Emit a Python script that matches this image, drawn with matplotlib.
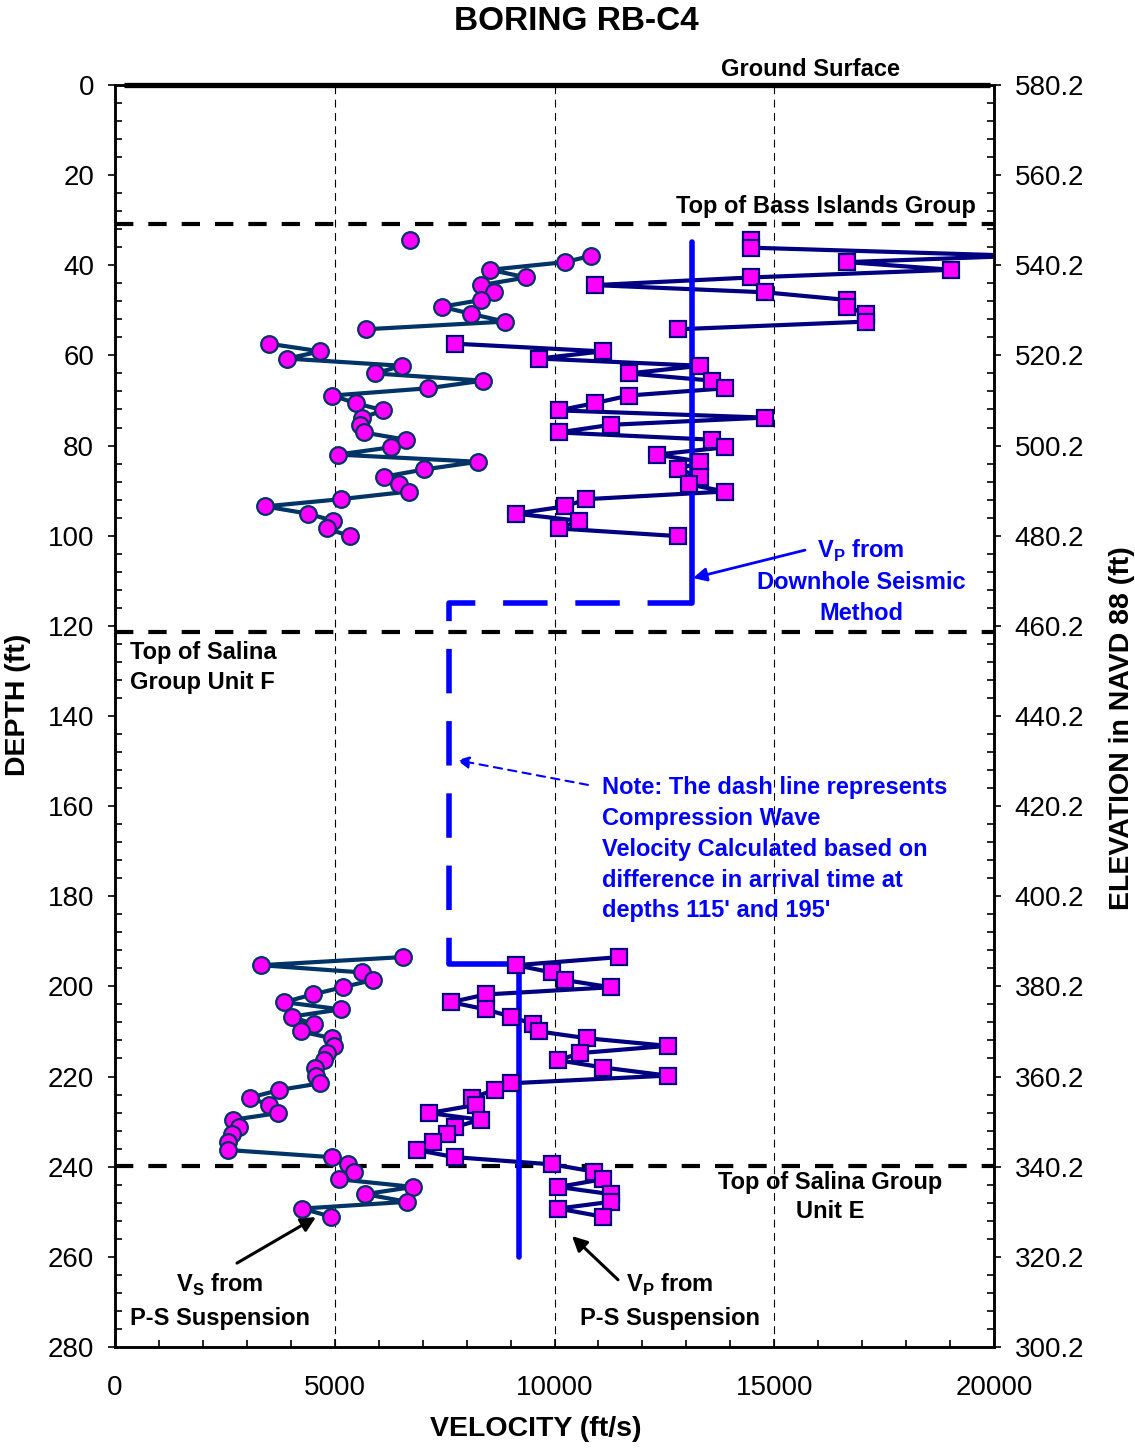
import numpy as np
import matplotlib
matplotlib.use("Agg")
import matplotlib.pyplot as plt
from matplotlib.ticker import MultipleLocator

plt.rcParams['font.family'] = ['Liberation Sans', 'DejaVu Sans']

# P-S suspension results, upper interval (ft, ft/s); nan = no reading
depth_upper = [34.4, 36.1, 37.9, 39.3, 41.0, 42.7, 44.4, 46.0, 47.7, 49.2, 50.8, 52.5,
               54.2, 55.8, 57.4, 59.1, 60.7, 62.3, 64.0, 65.6, 67.3, 68.9, 70.6, 72.2,
               73.8, 75.4, 77.1, 78.7, 80.4, 82.0, 83.6, 85.3, 86.9, 88.6, 90.2, 91.9,
               93.5, 95.1, 96.7, 98.4, 100.1]
vs_upper = [6712, np.nan, 10833, 10239, 8532, 9361, 8330, 8630, 8330, 7435, 8109, 8874,
            5704, np.nan, 3504, 4672, 3921, 6523, 5916, 8373, 7115, 4945, 5476, 6105,
            5627, 5575, 5658, 6614, 6272, 5067, 8259, 7038, 6128, 6462, 6689, 5133,
            3413, 4384, 4968, 4816, 5347]
vp_upper = [14480, 14480, 20600, 16657, 19030, 14480, 10913, 14789, 16657, 16657, 17081, 17081,
            12812, np.nan, 7736, 11092, 9645, 13320, 11693, 13586, 13879, 11693, 10913, 10093,
            14789, 11278, 10093, 13586, 13879, 12327, 13320, 12814, 13320, 13057, 13879, 10725,
            10239, 9115, 10563, 10093, 12814]

# lower interval
depth_lower = [193.5, 195.3, 196.9, 198.6, 200.2, 201.8, 203.5, 205.1, 206.7, 208.4,
               210.0, 211.5, 213.2, 214.8, 216.4, 218.0, 219.8, 221.5, 223.0, 224.7,
               226.3, 228.1, 229.6, 231.2, 232.8, 234.5, 236.3, 237.9, 239.5, 241.1,
               242.8, 244.5, 246.1, 247.8, 249.3, 251.1]
vs_lower = [6545, 3322, 5612, 5862, 5177, 4496, 3845, 5143, 4019, 4520,
            4232, 4930, 4991, 4824, 4763, 4558, 4566, 4672, 3732, 3072,
            3504, 3716, 2690, 2826, 2654, 2578, 2564, 4930, 5308, 5445,
            5104, 6788, 5688, 6652, 4262, 4915]
vp_lower = [11475, 9124, 9935, 10239, 11278, 8434, 7645, 8434, 9003, 9518,
            9647, 10732, 12575, 10580, 10087, 11111, 12575, 9003, 8646, 8116,
            8214, 7151, 8320, 7736, 7561, 7228, 6865, 7736, 9950, 10899,
            11096, 10087, 11278, 11278, 10087, 11096]

# downhole seismic Vp
dh_depth_top = [34.8, 115]
dh_vp_top = [13130, 13130]
dh_depth_mid = [115, 115, 195]
dh_vp_mid = [13130, 7600, 7600]
dh_depth_bot = [195, 195, 260]
dh_vp_bot = [7600, 9200, 9200]

# stratigraphic tops
tops = [30.8, 121.4, 239.8]
ground_elev = 580.2

VS_COLOR = '#003366'
VP_COLOR = '#000080'
MAG = '#FF00FF'
BLUE = '#0000FF'

fig = plt.figure(figsize=(11.35, 14.48), dpi=100)
ax = fig.add_axes([0.1013, 0.0698, 0.7745, 0.8715])
ax.set_xlim(0, 20000)
ax.set_ylim(280, 0)

# formation tops and ground surface
for d in tops:
    ax.plot([0, 20000], [d, d], color='black', lw=3, ls=(0, (4.4, 3.6)),
            zorder=1.5, solid_capstyle='butt')
ax.plot([200, 19900], [0, 0], color='black', lw=3.8, clip_on=False, zorder=5,
        solid_capstyle='butt')

# P-S suspension lines
for dep, vs, vp in [(depth_upper, vs_upper, vp_upper), (depth_lower, vs_lower, vp_lower)]:
    ax.plot(vs, dep, color=VS_COLOR, lw=3, zorder=2)
    ax.plot(vp, dep, color=VP_COLOR, lw=3, zorder=2)

# downhole Vp
ax.plot(dh_vp_top, dh_depth_top, color=BLUE, lw=4, zorder=3, solid_capstyle='round',
        solid_joinstyle='miter')
ax.plot(dh_vp_mid, dh_depth_mid, color=BLUE, lw=4, zorder=3, ls=(0, (8, 5)),
        dash_capstyle='butt')
ax.plot(dh_vp_bot, dh_depth_bot, color=BLUE, lw=4, zorder=3, solid_capstyle='round',
        solid_joinstyle='miter')

# markers on top
for dep, vs, vp in [(depth_upper, vs_upper, vp_upper), (depth_lower, vs_lower, vp_lower)]:
    ax.plot(vs, dep, ls='none', marker='o', ms=12, mfc=MAG, mec=VS_COLOR, mew=1.6, zorder=4)
    ax.plot(vp, dep, ls='none', marker='s', ms=11, mfc=MAG, mec=VP_COLOR, mew=1.6, zorder=4)

# axes styling
ax.xaxis.set_major_locator(MultipleLocator(5000))
ax.xaxis.set_minor_locator(MultipleLocator(1000))
ax.yaxis.set_major_locator(MultipleLocator(20))
ax.yaxis.set_minor_locator(MultipleLocator(4))
ax.grid(axis='x', which='major', color='black', lw=0.8, ls=(0, (7, 5)), zorder=0)
ax.tick_params(axis='x', which='major', direction='in', length=6, width=1.2,
               labelsize=20, pad=20)
ax.tick_params(axis='x', which='minor', direction='in', length=5, width=1.2)
ax.tick_params(axis='y', which='major', direction='out', length=5, width=1.2,
               labelsize=20, pad=10)
ax.tick_params(axis='y', which='minor', direction='in', length=5, width=1.2)
for s in ax.spines.values():
    s.set_linewidth(1.8)

ax2 = ax.twinx()
ax2.set_ylim(280, 0)
ax2.yaxis.set_major_locator(MultipleLocator(20))
ax2.yaxis.set_minor_locator(MultipleLocator(4))
yt = np.arange(0, 281, 20)
ax2.set_yticks(yt)
ax2.set_yticklabels([f"{ground_elev - t:.1f}" for t in yt])
ax2.tick_params(axis='y', which='major', direction='out', length=5, width=1.2,
                labelsize=20, pad=10)
ax2.tick_params(axis='y', which='minor', direction='in', length=5, width=1.2)
for s in ax2.spines.values():
    s.set_linewidth(1.8)

# labels
fig.text(576 / 1135, 1 - 22 / 1448, 'BORING RB-C4', ha='center', va='center',
         fontsize=24, fontweight='bold')
fig.text(536 / 1135, 1 - 1429 / 1448, 'VELOCITY (ft/s)', ha='center', va='center',
         fontsize=20.5, fontweight='bold')
fig.text(18 / 1135, 1 - 705 / 1448, 'DEPTH (ft)', ha='center', va='center',
         rotation=90, fontsize=20.5, fontweight='bold')
fig.text(1122 / 1135, 1 - 728 / 1448, 'ELEVATION in NAVD 88 (ft)', ha='center',
         va='center', rotation=90, fontsize=20.5, fontweight='bold')

tkw = dict(fontsize=17, fontweight='bold')
ax.text(15813, -3.4, 'Ground Surface', ha='center', va='center', clip_on=False, **tkw)
ax.text(16177, 27.0, 'Top of Bass Islands Group', ha='center', va='center', **tkw)
ax.text(341, 129.3, 'Top of Salina\nGroup Unit F', ha='left', va='center',
        linespacing=1.38, **tkw)
ax.text(16268, 246.7, 'Top of Salina Group\nUnit E', ha='center', va='center',
        linespacing=1.35, **tkw)

ax.text(16974, 110.1, 'V$_\\mathregular{P}$ from\nDownhole Seismic\nMethod', ha='center',
        va='center', color=BLUE, linespacing=1.4, **tkw)
ax.annotate('', xy=(13151, 109.4), xytext=(15700, 103.2),
            arrowprops=dict(arrowstyle='-|>', color=BLUE, lw=2, mutation_scale=20,
                            shrinkA=0, shrinkB=0))

ax.text(11081, 169.6, "Note: The dash line represents\nCompression Wave\n"
        "Velocity Calculated based on\ndifference in arrival time at\n"
        "depths 115' and 195'", ha='left', va='center', color=BLUE,
        linespacing=1.43, **tkw)
ax.annotate('', xy=(7782, 149.8), xytext=(10762, 155.3),
            arrowprops=dict(arrowstyle='-|>', color=BLUE, lw=1.5, ls=(0, (4, 3)),
                            mutation_scale=18, shrinkA=0, shrinkB=0))

ax.text(2389, 269.8, 'V$_\\mathregular{S}$ from\nP-S Suspension', ha='center', va='center',
        linespacing=1.48, **tkw)
ax.annotate('', xy=(4573, 251.2), xytext=(2776, 261.4),
            arrowprops=dict(arrowstyle='-|>', color='black', lw=2.2, mutation_scale=22,
                            shrinkA=0, shrinkB=0))
ax.text(12628, 269.8, 'V$_\\mathregular{P}$ from\nP-S Suspension', ha='center', va='center',
        linespacing=1.48, **tkw)
ax.annotate('', xy=(10398, 255.4), xytext=(11445, 265.1),
            arrowprops=dict(arrowstyle='-|>', color='black', lw=2.2, mutation_scale=22,
                            shrinkA=0, shrinkB=0))

fig.savefig('out.png', dpi=100)
